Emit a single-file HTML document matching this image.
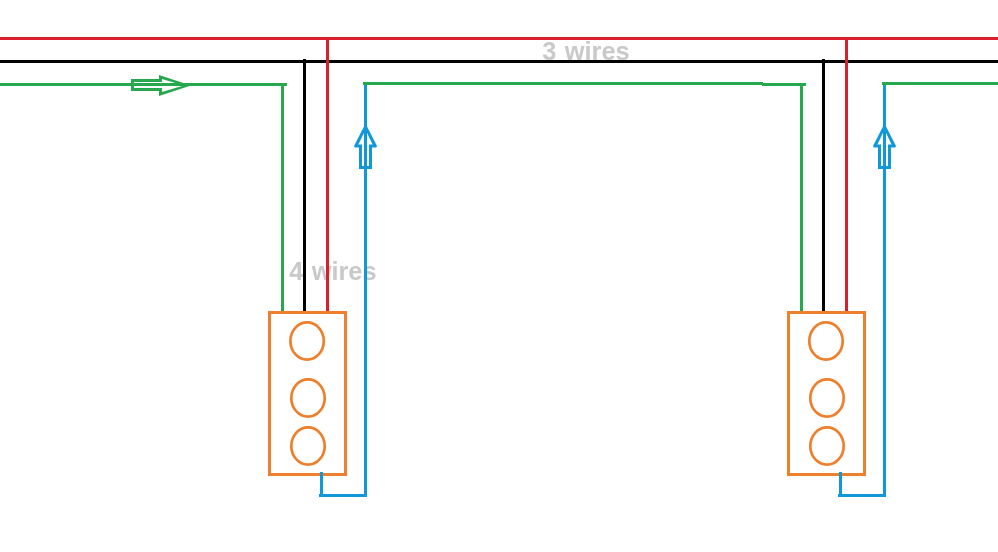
<!DOCTYPE html>
<html lang="en">
<head>
<meta charset="utf-8">
<title>Wiring diagram</title>
<style>
html,body{margin:0;padding:0;background:#fff;}
body{width:998px;height:552px;overflow:hidden;position:relative;font-family:"Liberation Sans",sans-serif;}
svg{position:absolute;left:0;top:0;display:block;}
.lbl{font-family:"Liberation Sans",sans-serif;font-weight:bold;font-size:25.4px;word-spacing:1.3px;fill:#c9c9c9;}
</style>
</head>
<body>
<svg width="998" height="552" viewBox="0 0 998 552">
  <rect width="998" height="552" fill="#ffffff"/>
  <!-- labels (behind wires) -->
  <g style="filter:blur(0.5px)">
    <text class="lbl" x="542.3" y="60.3">3 wires</text>
    <text class="lbl" x="289.2" y="280">4 wires</text>
  </g>
  <g shape-rendering="crispEdges">
    <!-- green -->
    <g fill="#26a84f">
      <rect x="0" y="83" width="287" height="3"/>
      <rect x="281" y="83" width="3" height="230"/>
      <rect x="363" y="82" width="400" height="3"/>
      <rect x="762" y="83" width="44" height="3"/>
      <rect x="800" y="83" width="3" height="230"/>
      <rect x="882" y="82" width="116" height="3"/>
    </g>
    <!-- black -->
    <g fill="#000000">
      <rect x="0" y="60" width="998" height="3"/>
      <rect x="303" y="59" width="3" height="254"/>
      <rect x="822" y="59" width="3" height="254"/>
    </g>
    <!-- red -->
    <g fill="#da1f2c">
      <rect x="0" y="37" width="998" height="3"/>
      <rect x="326" y="37" width="3" height="276"/>
      <rect x="845" y="37" width="3" height="276"/>
    </g>
    <!-- blue -->
    <g fill="#1098da">
      <rect x="364" y="85" width="3" height="412"/>
      <rect x="319" y="494" width="48" height="3"/>
      <rect x="320" y="472" width="3" height="25"/>
      <rect x="883" y="85" width="3" height="412"/>
      <rect x="838" y="494" width="48" height="3"/>
      <rect x="839" y="472" width="3" height="25"/>
    </g>
  </g>
  <!-- orange boxes -->
  <g fill="none" stroke="#ee7f2d" stroke-width="3">
    <rect x="269.5" y="312.5" width="76" height="162" shape-rendering="crispEdges"/>
    <ellipse cx="307.1" cy="341" rx="16.7" ry="18.7" stroke-width="2.7"/>
    <ellipse cx="308" cy="398" rx="16.7" ry="18.7" stroke-width="2.7"/>
    <ellipse cx="308" cy="446" rx="16.7" ry="18.7" stroke-width="2.7"/>
    <rect x="788.5" y="312.5" width="76" height="162" shape-rendering="crispEdges"/>
    <ellipse cx="826" cy="341" rx="16.7" ry="18.7" stroke-width="2.7"/>
    <ellipse cx="827" cy="398" rx="16.7" ry="18.7" stroke-width="2.7"/>
    <ellipse cx="827" cy="446" rx="16.7" ry="18.7" stroke-width="2.7"/>
  </g>
  <!-- blue bits drawn over box bottom -->
  <g shape-rendering="crispEdges" fill="#1098da">
    <rect x="320" y="472" width="3" height="25"/>
    <rect x="839" y="472" width="3" height="25"/>
  </g>
  <!-- arrows -->
  <g fill-rule="evenodd" stroke="none">
    <path fill="#26a84f" d="M131 79 H159 V75 L191 85.500 L159 96 V91 H131 Z M134 82 V88 H162 V92 L183.600 85.500 L162 79 V82 Z"/>
    <path fill="#1098da" d="M365.500 123.600 L377 146 L376.200 147.400 H372 V169 H359 V147.400 H354.800 L354 146 Z M358.400 144.400 H362 V166 H369 V144.400 H372.600 L365.500 129.800 Z"/>
    <path fill="#1098da" d="M884.500 123.600 L896 146 L895.200 147.400 H891 V169 H878 V147.400 H873.800 L873 146 Z M877.400 144.400 H881 V166 H888 V144.400 H891.600 L884.500 129.800 Z"/>
  </g>
</svg>
</body>
</html>
